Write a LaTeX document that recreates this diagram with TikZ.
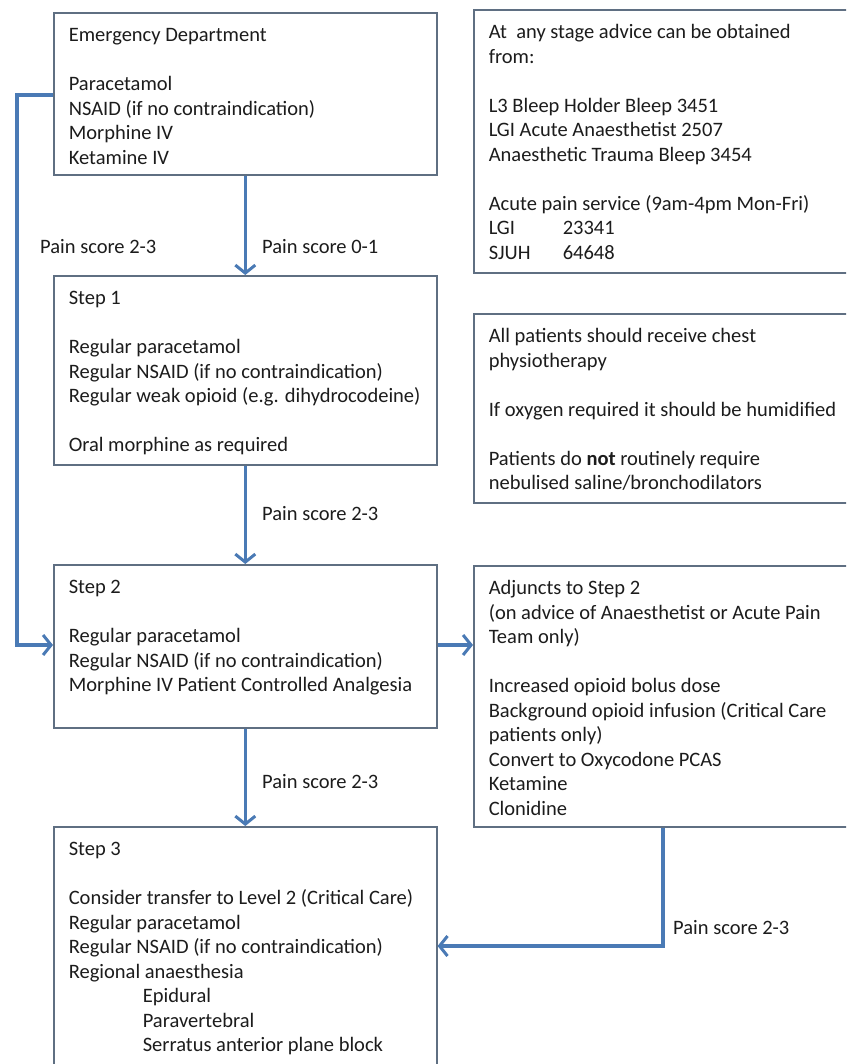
\documentclass[tikz,border=0pt]{standalone}
\usepackage{fontspec}
\setmainfont{Carlito}
\usetikzlibrary{arrows.meta}

\definecolor{boxline}{HTML}{5F6F82}
\definecolor{flowblue}{HTML}{4A7AB5}
\definecolor{txt}{HTML}{1C1C1C}

% fixed box body, text from the top
\newcommand{\boxbody}[3]{\parbox[b][#1][t]{#2}{\raggedright\rule{0pt}{29pt}#3}}

\tikzset{
    box/.style={draw=boxline, line width=1.6pt, anchor=north west, inner xsep=15pt, inner ysep=0pt, align=left, text=txt},
    flow/.style={draw=flowblue, line width=3.2pt, >={Straight Barb[length=8pt,width=20pt,line width=3pt]}},
    lbl/.style={anchor=base west, inner sep=0pt, text=txt}
}

\begin{document}
\begin{tikzpicture}[x=1pt, y=-1pt, font=\fontsize{20.5}{24.5}\selectfont]
                \clip (0,0) rectangle (846,1064);
                \fill[white] (0,0) rectangle (846,1064);

                \node[box] (ed) at (53,12) {\boxbody{162pt}{353pt}{Emergency Department\\[24.5pt]
                    Paracetamol\\ NSAID (if no contraindication)\\ Morphine IV\\ Ketamine IV}};
                \node[box] (step1) at (53,275) {\boxbody{189pt}{353pt}{Step 1\\[24.5pt]
                    Regular paracetamol\\ Regular NSAID (if no contraindication)\\ Regular weak opioid (e.g. dihydrocodeine)\\[24.5pt]
                    Oral morphine as required}};
                \node[box] (step2) at (53,564) {\boxbody{163pt}{353pt}{Step 2\\[24.5pt]
                    Regular paracetamol\\ Regular NSAID (if no contraindication)\\ Morphine IV Patient Controlled Analgesia}};
                \node[box] (step3) at (53,826) {\boxbody{260pt}{353pt}{Step 3\\[24.5pt]
                    Consider transfer to Level 2 (Critical Care)\\ Regular paracetamol\\ Regular NSAID (if no contraindication)\\ Regional anaesthesia\\
                    \hspace*{74pt}Epidural\\ \hspace*{74pt}Paravertebral\\ \hspace*{74pt}Serratus anterior plane block}};

                \node[box] (advice) at (473,9) {\boxbody{263pt}{370pt}{At \ any stage advice can be obtained\\ from:\\[24.5pt]
                    L3 Bleep Holder Bleep 3451\\ LGI Acute Anaesthetist 2507\\ Anaesthetic Trauma Bleep 3454\\[24.5pt]
                    Acute pain service (9am-4pm Mon-Fri)\\ \makebox[74pt][l]{LGI}23341\\ \makebox[74pt][l]{SJUH}64648}};
                \node[box] (chest) at (473,313) {\boxbody{189pt}{370pt}{All patients should receive chest\\ physiotherapy\\[24.5pt]
                    If oxygen required it should be humidified\\[24.5pt]
                    Patients do \textbf{not} routinely require\\ nebulised saline/bronchodilators}};
                \node[box] (adj) at (473,565) {\boxbody{261pt}{370pt}{Adjuncts to Step 2\\ (on advice of Anaesthetist or Acute Pain\\ Team only)\\[24.5pt]
                    Increased opioid bolus dose\\ Background opioid infusion (Critical Care\\ patients only)\\ Convert to Oxycodone PCAS\\ Ketamine\\ Clonidine}};

                \draw[flow,->] (ed.south) -- (step1.north);
                \draw[flow,->] (step1.south) -- (step2.north);
                \draw[flow,->] (step2.south) -- (step3.north);
                \draw[flow,->] ([yshift=-83pt]ed.north west) -- ++(-36,0) |- ([yshift=-81pt]step2.north west);
                \draw[flow,->] ([yshift=-81pt]step2.north east) -- ([yshift=-81pt]step2.north east -| adj.west);
                \draw[flow,->] ([xshift=190pt]adj.south west) |- ([yshift=-120pt]step3.north east);

                \node[lbl] (p23a) at (40,254) {Pain score 2-3};
                \node[lbl] (p01) at (262,254) {Pain score 0-1};
                \node[lbl] (p23b) at (262,520) {Pain score 2-3};
                \node[lbl] (p23c) at (262,788) {Pain score 2-3};
                \node[lbl] (p23d) at (673,934) {Pain score 2-3};
            \end{tikzpicture}
\end{document}
